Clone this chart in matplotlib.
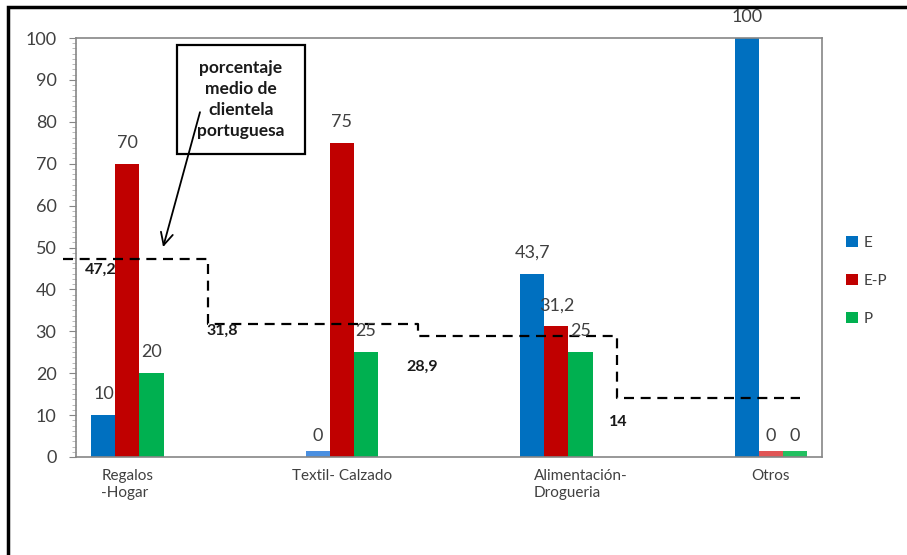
import numpy as np
import matplotlib
matplotlib.use("Agg")
import matplotlib.pyplot as plt
import matplotlib.transforms as mtransforms
from matplotlib.patches import Rectangle
from matplotlib.ticker import AutoMinorLocator

plt.rcParams['font.family'] = ['Lato', 'DejaVu Sans']

# --- data ---------------------------------------------------------------
categories = ["Regalos\n-Hogar", "Textil- Calzado", "Alimentación-\nDrogueria", "Otros"]
series_names = ["E", "E-P", "P"]
values_E = [10, 0, 43.7, 100]
values_EP = [70, 75, 31.2, 0]
values_P = [20, 25, 25, 0]
# average share of Portuguese customers per sector
avg_portuguese = [47.2, 31.8, 28.9, 14]
y_ticks = [0, 10, 20, 30, 40, 50, 60, 70, 80, 90, 100]

colors = ["#0070C0", "#C00000", "#00B050"]
stub_colors = ["#4A8FE0", "#E05555", "#22C060"]
text_gray = "#404040"
spine_gray = "#868686"


def fmt(v):
    s = f"{v:g}"
    return s.replace(".", ",")


fig = plt.figure(figsize=(9.07, 5.55), dpi=100)
ax = fig.add_axes([0.0838, 0.1766, 0.8225, 0.7549])

x = np.arange(len(categories))
w = 0.112
offsets = [-w, 0, w]
stub = 1.5  # minimal visible height for zero-valued bars

for vals, off, c, sc, name in zip([values_E, values_EP, values_P], offsets,
                                  colors, stub_colors, series_names):
    vals = np.array(vals, dtype=float)
    ax.bar(x + off, vals, width=w, color=c, label=name, zorder=2)
    zero = vals == 0
    if zero.any():
        ax.bar((x + off)[zero], np.full(zero.sum(), stub), width=w,
               color=sc, zorder=2)
    for xi, v in zip(x + off, vals):
        ax.annotate(fmt(v), (xi, v), xytext=(0, 15), textcoords="offset points",
                    ha="center", va="center", fontsize=13, color=text_gray,
                    zorder=5)

# dashed step line of the average share
bounds = [-0.30, 0.375, 1.354, 2.28, 3.135]
xs, ys = [], []
for i, lvl in enumerate(avg_portuguese):
    xs += [bounds[i], bounds[i + 1]]
    ys += [lvl, lvl]
ax.plot(xs, ys, color="black", lw=1.6, ls=(0, (4.5, 3)), zorder=4,
        clip_on=False)

label_pos = [(-0.124, -2.6), (0.44, -1.7), (1.373, -7.4), (2.287, -5.6)]
for (lx, dy), lvl in zip(label_pos, avg_portuguese):
    ax.text(lx, lvl + dy, fmt(lvl), ha="center", va="center", fontsize=11.5,
            fontweight="bold", color="#1a1a1a", zorder=5)

# call-out box with arrow
ax.add_patch(Rectangle((0.231, 72.3), 0.596, 26.0, fill=True, facecolor="white",
                       edgecolor="black", lw=1.6, zorder=6))
ax.text(0.529, 85.3, "porcentaje\nmedio de\nclientela\nportuguesa", ha="center",
        va="center", fontsize=12.5, fontweight="bold", color="#1a1a1a",
        linespacing=1.38, zorder=7)
ax.annotate("", xy=(0.166, 50.1), xytext=(0.338, 82.3),
            arrowprops=dict(arrowstyle="->", color="black", lw=1.3,
                            mutation_scale=22, shrinkA=0, shrinkB=0),
            zorder=7)

# axes styling
ax.set_xlim(-0.24, 3.238)
ax.set_ylim(0, 100)
ax.set_yticks(y_ticks)
ax.yaxis.set_minor_locator(AutoMinorLocator(8))
ax.set_xticks(x)
ax.set_xticklabels(categories, fontsize=11, color=text_gray,
                   multialignment="left")
ax.tick_params(axis="x", length=0, pad=9)
ax.tick_params(axis="y", which="major", length=5, color=spine_gray,
               labelsize=13, labelcolor=text_gray, pad=9)
ax.tick_params(axis="y", which="minor", length=3, color="#b0b0b0")
for s in ax.spines.values():
    s.set_color(spine_gray)
    s.set_linewidth(1.2)

# nudge the two-line food/drugstore label to the right
shift = mtransforms.ScaledTranslation(24 / 100, 0, fig.dpi_scale_trans)
lbl = ax.get_xticklabels()[2]
lbl.set_transform(lbl.get_transform() + shift)

ax.legend(loc="center left", bbox_to_anchor=(0.918, 0.494),
          bbox_transform=fig.transFigure, frameon=False, fontsize=11,
          handlelength=0.75, handleheight=0.75, handletextpad=0.35,
          labelspacing=1.55, labelcolor=text_gray)

# outer frame (left and top edges visible)
fig.patches.append(Rectangle((8 / 907, -0.2), 1.2, 1.2 - 7 / 555,
                             transform=fig.transFigure, fill=False,
                             edgecolor="black", lw=2.5))

fig.savefig("out.png", dpi=100, facecolor="white")
